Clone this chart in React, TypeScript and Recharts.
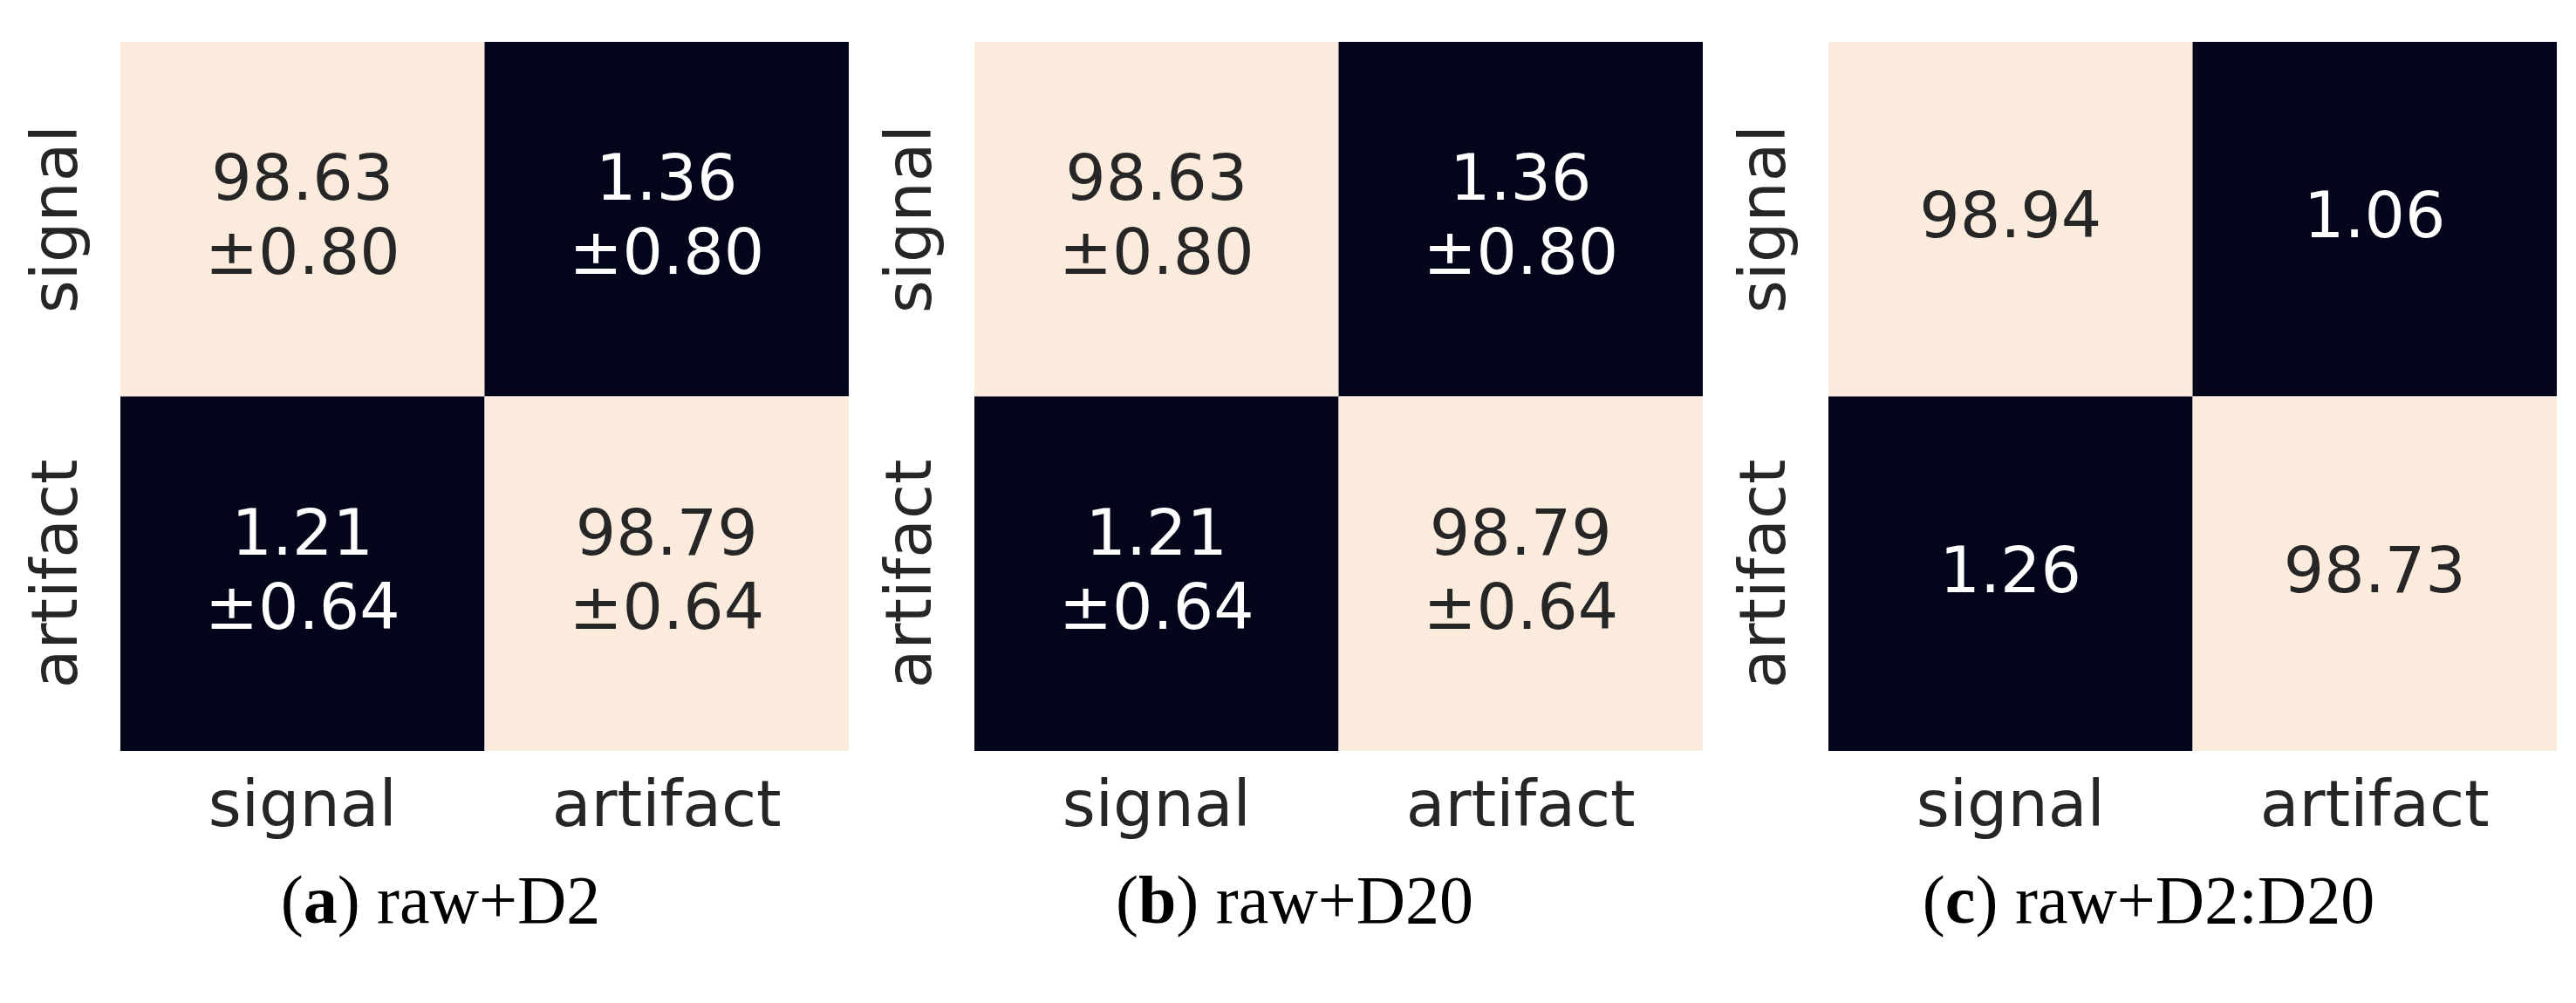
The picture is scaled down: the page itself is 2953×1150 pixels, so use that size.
import React from "react";
import { ScatterChart, Scatter, XAxis, YAxis, ReferenceArea } from "recharts";

const categories = ["signal", "artifact"];

const meansA = [
  [98.63, 1.36],
  [1.21, 98.79],
];
const stdsA = [
  [0.8, 0.8],
  [0.64, 0.64],
];
const meansB = [
  [98.63, 1.36],
  [1.21, 98.79],
];
const stdsB = [
  [0.8, 0.8],
  [0.64, 0.64],
];
const meansC = [
  [98.94, 1.06],
  [1.26, 98.73],
];

const panelLetters = ["a", "b", "c"];
const panelNames = ["raw+D2", "raw+D20", "raw+D2:D20"];

const LIGHT = "#FAEBDD";
const DARK = "#03051A";
const TEXT_DARK = "#262626";
const FONT = "'DejaVu Sans', sans-serif";
const FS = 73;

type Panel = { means: number[][]; stds: number[][] | null; left: number };

const panels: Panel[] = [
  { means: meansA, stds: stdsA, left: 0 },
  { means: meansB, stds: stdsB, left: 979 },
  { means: meansC, stds: null, left: 1958 },
];

const CHART_W = 1000;
const CHART_H = 1150;

function buildPoints(means: number[][], stds: number[][] | null) {
  const pts: { x: number; y: number; v: number; s: number | null }[] = [];
  means.forEach((row, r) =>
    row.forEach((v, c) => {
      pts.push({ x: c + 0.5, y: r + 0.5, v, s: stds ? stds[r][c] : null });
    })
  );
  return pts;
}

const AnnotShape = (props: any) => {
  const { cx, cy, payload } = props;
  const fill = payload.v > 50 ? TEXT_DARK : "#FFFFFF";
  if (payload.s === null) {
    return (
      <text x={cx} y={cy + 21} textAnchor="middle" fill={fill} fontFamily={FONT} fontSize={FS}>
        {payload.v.toFixed(2)}
      </text>
    );
  }
  return (
    <g>
      <text x={cx} y={cy - 22} textAnchor="middle" fill={fill} fontFamily={FONT} fontSize={FS}>
        {payload.v.toFixed(2)}
      </text>
      <text x={cx} y={cy + 63} textAnchor="middle" fill={fill} fontFamily={FONT} fontSize={FS}>
        {"±" + payload.s.toFixed(2)}
      </text>
    </g>
  );
};

const XTick = (props: any) => {
  const { x, y, payload } = props;
  const idx = Math.round(payload.value - 0.5);
  return (
    <text x={x} y={y + 86} textAnchor="middle" fill={TEXT_DARK} fontFamily={FONT} fontSize={FS}>
      {categories[idx]}
    </text>
  );
};

const YTick = (props: any) => {
  const { x, y, payload } = props;
  const idx = Math.round(payload.value - 0.5);
  const bx = x - 50;
  return (
    <text
      x={bx}
      y={y}
      transform={`rotate(-90, ${bx}, ${y})`}
      textAnchor="middle"
      fill={TEXT_DARK}
      fontFamily={FONT}
      fontSize={FS}
    >
      {categories[idx]}
    </text>
  );
};

function HeatPanel({ panel }: { panel: Panel }) {
  const pts = buildPoints(panel.means, panel.stds);
  return (
    <div style={{ position: "absolute", left: panel.left, top: 0, width: CHART_W, height: CHART_H }}>
      <ScatterChart
        width={CHART_W}
        height={CHART_H}
        margin={{ top: 48, right: 27, bottom: 229, left: 78 }}
      >
        <XAxis
          type="number"
          dataKey="x"
          domain={[0, 2]}
          ticks={[0.5, 1.5]}
          allowDataOverflow
          axisLine={false}
          tickLine={false}
          tickSize={0}
          tickMargin={0}
          height={60}
          tick={<XTick />}
          interval={0}
        />
        <YAxis
          type="number"
          dataKey="y"
          domain={[0, 2]}
          ticks={[0.5, 1.5]}
          reversed
          allowDataOverflow
          axisLine={false}
          tickLine={false}
          tickSize={0}
          tickMargin={0}
          width={60}
          tick={<YTick />}
          interval={0}
        />
        {pts.map((p, i) => (
          <ReferenceArea
            key={i}
            x1={p.x - 0.5}
            x2={p.x + 0.5}
            y1={p.y - 0.5}
            y2={p.y + 0.5}
            fill={p.v > 50 ? LIGHT : DARK}
            fillOpacity={1}
            stroke="none"
            ifOverflow="visible"
          />
        ))}
        <Scatter data={pts} shape={<AnnotShape />} isAnimationActive={false} />
      </ScatterChart>
    </div>
  );
}

export default function App() {
  const captionCenters = panels.map((p) => p.left + 505);
  return (
    <div style={{ position: "absolute", left: 0, top: 0, width: 2953, height: 1150, background: "#FFFFFF" }}>
      {panels.map((p, i) => (
        <HeatPanel key={i} panel={p} />
      ))}
      <svg
        width={2953}
        height={1150}
        style={{ position: "absolute", left: 0, top: 0, pointerEvents: "none" }}
      >
        {captionCenters.map((cx, i) => (
          <text
            key={i}
            x={cx}
            y={1058}
            textAnchor="middle"
            fontFamily="'Liberation Serif', 'Times New Roman', serif"
            fontSize={78}
            fill="#000000"
          >
            <tspan>(</tspan>
            <tspan fontWeight="bold">{panelLetters[i]}</tspan>
            <tspan>{") " + panelNames[i]}</tspan>
          </text>
        ))}
      </svg>
    </div>
  );
}
